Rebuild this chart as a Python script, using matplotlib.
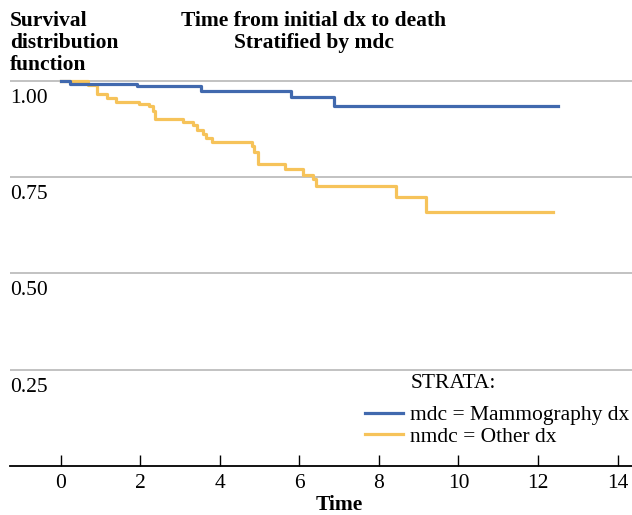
import numpy as np
import matplotlib
matplotlib.use('Agg')
import matplotlib.pyplot as plt

# Kaplan-Meier steps (time, survival after the step)
mdc_time = [0.0, 0.24, 1.93, 3.52, 5.80, 6.87, 12.50]
mdc_surv = [1.000, 0.992, 0.985, 0.974, 0.958, 0.935, 0.935]

nmdc_time = [0.0, 0.70, 0.92, 1.16, 1.39, 1.98, 2.23, 2.33, 2.37, 3.07, 3.34,
             3.42, 3.59, 3.65, 3.80, 4.80, 4.86, 4.97, 5.65, 6.10, 6.35, 6.41,
             8.42, 9.18, 12.37]
nmdc_surv = [1.000, 0.989, 0.965, 0.955, 0.945, 0.940, 0.933, 0.922, 0.900, 0.892, 0.884,
             0.872, 0.862, 0.851, 0.841, 0.831, 0.816, 0.784, 0.771, 0.755, 0.745, 0.726,
             0.698, 0.659, 0.659]

y_ticks = [0.25, 0.50, 0.75, 1.00]
x_ticks = [0, 2, 4, 6, 8, 10, 12, 14]

plt.rcParams['font.family'] = ['Liberation Serif', 'DejaVu Serif']
fs = 15.5
blue = '#4169AE'
yellow = '#F6C35A'

W, H = 632, 515
fig = plt.figure(figsize=(W / 100, H / 100), dpi=100)
ax = fig.add_axes([10 / W, 49 / H, 1 - 10 / W, (466 - 76) / H])

ax.step(nmdc_time, nmdc_surv, where='post', color=yellow, lw=2.3, label='nmdc = Other dx', zorder=3)
ax.step(mdc_time, mdc_surv, where='post', color=blue, lw=2.3, label='mdc = Mammography dx', zorder=4)

ax.set_xlim(-1.27, 14.36)
ax.set_ylim(0, 1.012)

for y in y_ticks:
    ax.axhline(y, color='#BDBDBD', lw=1.3, zorder=1)
    ax.text(0, y - 0.057, f'{y:.2f}', transform=ax.get_yaxis_transform(),
            ha='left', va='baseline', fontsize=fs)

for s in ['top', 'right', 'left']:
    ax.spines[s].set_visible(False)
ax.spines['bottom'].set_linewidth(1.3)
ax.set_yticks([])
ax.set_xticks(x_ticks)
ax.tick_params(axis='x', direction='in', length=8, width=1, pad=6, labelsize=fs)

handles, labels = ax.get_legend_handles_labels()
leg = fig.legend(handles[::-1], labels[::-1], loc='center left',
                 bbox_to_anchor=(365 / W, 89 / H), frameon=False, fontsize=fs,
                 handlelength=1.75, handletextpad=0.35, labelspacing=0.05,
                 borderpad=0, borderaxespad=0)
fig.text(411 / W, 1 - 388 / H, 'STRATA:', fontsize=fs, ha='left', va='baseline')

fig.text(10 / W, 1 - 11 / H, 'Survival\ndistribution\nfunction', fontsize=fs,
         fontweight='bold', ha='left', va='top', linespacing=1.12)
fig.text(314 / W, 1 - 11 / H, 'Time from initial dx to death\nStratified by mdc', fontsize=fs,
         fontweight='bold', ha='center', va='top', multialignment='center', linespacing=1.12)
fig.text(339 / W, 5 / H, 'Time', fontsize=fs, fontweight='bold', ha='center', va='baseline')

fig.savefig('out.png', dpi=100)
